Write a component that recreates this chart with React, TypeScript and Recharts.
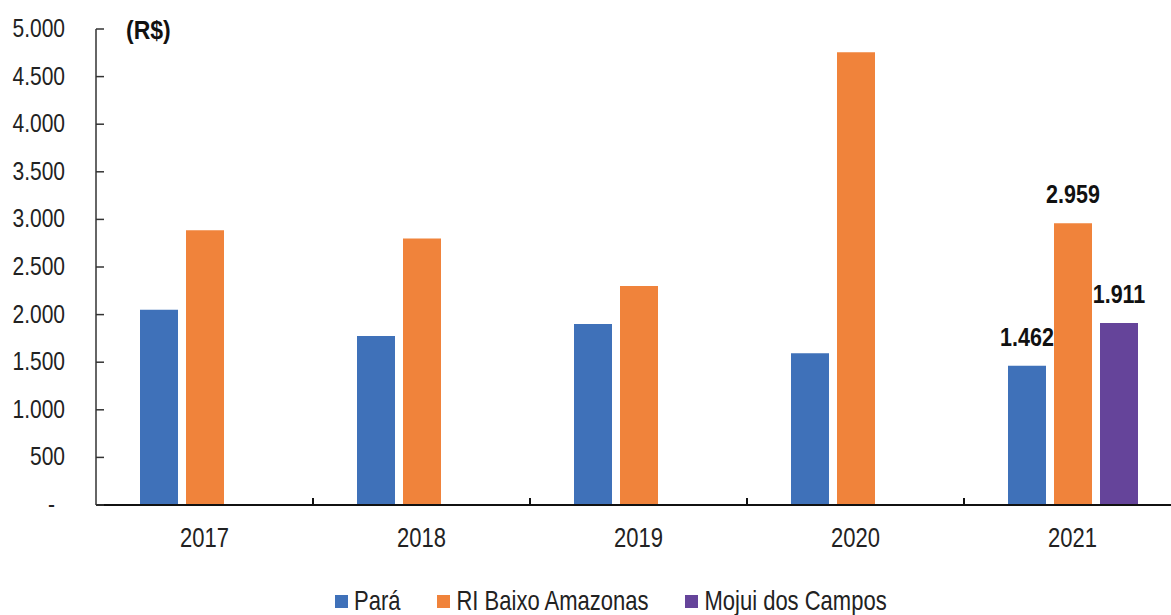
import React from 'react'
import { BarChart, Bar, XAxis, YAxis, LabelList } from 'recharts'

const years = ['2017', '2018', '2019', '2020', '2021']
const para = [2050, 1775, 1900, 1595, 1462]
const riBaixo = [2885, 2800, 2300, 4755, 2959]
const mojui = [null, null, null, null, 1911]
const yTicks = [0, 500, 1000, 1500, 2000, 2500, 3000, 3500, 4000, 4500, 5000]
const labelledYear = '2021'

const series = [
    { key: 'para', name: 'Pará', color: '#3F71B9' },
    { key: 'riBaixo', name: 'RI Baixo Amazonas', color: '#F0833B' },
    { key: 'mojui', name: 'Mojui dos Campos', color: '#65449A' }
]

const data = years.map((year, i) => ({
    year,
    para: para[i],
    riBaixo: riBaixo[i],
    mojui: mojui[i]
}))

const FONT = '"Liberation Sans", Arial, sans-serif'

const fmt = (v: number) =>
    v === 0 ? '-' : String(v).replace(/\B(?=(\d{3})+(?!\d))/g, '.')

const YTick = (props: any) => {
    const { x, y, payload } = props
    const isZero = payload.value === 0
    return (
        <g>
            <line x1={x} y1={y} x2={x + 8} y2={y} stroke="#333" strokeWidth={1.5} />
            <text
                transform={`translate(${isZero ? x - 41 : x - 31},${y + 8}) scale(1,1.25)`}
                textAnchor="end"
                fontFamily={FONT}
                fontSize={21}
                fill="#222">
                {fmt(payload.value)}
            </text>
        </g>
    )
}

const XTick = (props: any) => {
    const { x, y, payload, index } = props
    const half = payload.offset ?? 108.5
    return (
        <g>
            {index < years.length - 1 && (
                <line x1={x + half} y1={y} x2={x + half} y2={y - 7} stroke="#111" strokeWidth={2} />
            )}
            <text
                transform={`translate(${x},${y + 42}) scale(1,1.25)`}
                textAnchor="middle"
                fontFamily={FONT}
                fontSize={22}
                fill="#222">
                {payload.value}
            </text>
        </g>
    )
}

// only the 2021 bars carry a value label
const ValueLabel = (props: any) => {
    const { x, y, width, value } = props
    if (value == null) return null
    return (
        <text
            transform={`translate(${x + width / 2},${y - 20}) scale(1,1.18)`}
            textAnchor="middle"
            fontFamily={FONT}
            fontWeight="bold"
            fontSize={21.5}
            fill="#111">
            {fmt(value)}
        </text>
    )
}

const App = () => {
    return (
        <div style={{ position: 'fixed', left: 0, top: 0, width: 1171, height: 615, overflow: 'hidden', background: '#fff' }}>
            <BarChart
                width={1200}
                height={615}
                data={data}
                barSize={38}
                barGap={8}
                margin={{ top: 29, right: 19, bottom: 70, left: 0 }}>
                <XAxis
                    dataKey="year"
                    height={40}
                    axisLine={{ stroke: '#111', strokeWidth: 2 }}
                    tickLine={false}
                    tickSize={0}
                    tickMargin={0}
                    interval={0}
                    tick={<XTick />} />
                <YAxis
                    width={96}
                    domain={[0, 5000]}
                    ticks={yTicks}
                    interval={0}
                    axisLine={{ stroke: '#333', strokeWidth: 1.5 }}
                    tickLine={false}
                    tickSize={0}
                    tickMargin={0}
                    tick={<YTick />} />
                {series.map(s => (
                    <Bar key={s.key} dataKey={s.key} name={s.name} fill={s.color} isAnimationActive={false}>
                        <LabelList
                            dataKey={(d: any) => (d.year === labelledYear ? d[s.key] : null)}
                            content={<ValueLabel />} />
                    </Bar>
                ))}
            </BarChart>
            <div style={{
                position: 'absolute', left: 126, top: 17, fontFamily: FONT, fontWeight: 'bold',
                fontSize: 23, lineHeight: '23px', color: '#111', transform: 'scaleY(1.15)', transformOrigin: 'top left'
            }}>
                (R$)
            </div>
            <div style={{
                position: 'absolute', left: 335, top: 589, display: 'flex', alignItems: 'center', gap: 37,
                fontFamily: FONT, fontSize: 22, color: '#222'
            }}>
                {series.map(s => (
                    <div key={s.key} style={{ display: 'flex', alignItems: 'center' }}>
                        <span style={{ width: 13, height: 13, background: s.color, marginRight: 6, display: 'inline-block' }} />
                        <span style={{ display: 'inline-block', transform: 'scaleY(1.25)', lineHeight: '24px' }}>{s.name}</span>
                    </div>
                ))}
            </div>
        </div>
    )
}

export default App
